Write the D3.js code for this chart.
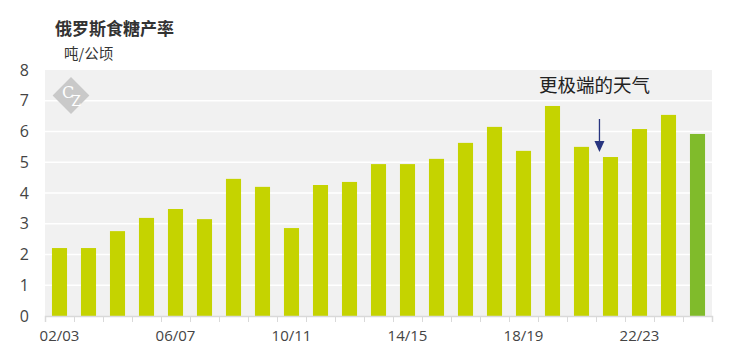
<!DOCTYPE html>
<html>
<head>
<meta charset="utf-8">
<script src="https://cdn.jsdelivr.net/npm/d3@7"></script>
<style>
  body { margin: 0; background: #fff; }
  svg { display: block; font-family: "Open Sans", "Noto Sans CJK SC", sans-serif; }
</style>
</head>
<body>
<svg id="chart" width="731" height="360"></svg>
<script>
// seasons 02/03 .. 24/25
const seasons = ['02/03','03/04','04/05','05/06','06/07','07/08','08/09','09/10','10/11','11/12','12/13',
  '13/14','14/15','15/16','16/17','17/18','18/19','19/20','20/21','21/22','22/23','23/24','24/25']
const yields = [2.21, 2.21, 2.76, 3.19, 3.48, 3.15, 4.46, 4.2, 2.86, 4.26, 4.36,
  4.94, 4.94, 5.11, 5.63, 6.15, 5.37, 6.83, 5.5, 5.17, 6.08, 6.54, 5.92]
const y_ticks = [0, 1, 2, 3, 4, 5, 6, 7, 8]
const x_labels = ['02/03', '06/07', '10/11', '14/15', '18/19', '22/23']
const note_text = '更极端的天气'
const note_season = '21/22'

const svg = d3.select('#chart')
const m_left = 45, m_right = 712, m_top = 70, m_bottom = 316

const x = d3.scaleBand().domain(seasons).range([m_left, m_right]).paddingInner(0.48).paddingOuter(0.24)
const x_edge = d3.scaleLinear().domain([0, seasons.length]).range([m_left, m_right])
const y = d3.scaleLinear().domain([0, 8]).range([m_bottom, m_top])

// title
svg.append('text').attr('x', 55).attr('y', 35)
  .attr('font-size', 17).attr('font-weight', 'bold').attr('fill', '#333')
  .attr('font-family', 'Noto Sans CJK SC, sans-serif')
  .text('俄罗斯食糖产率')
svg.append('text').attr('x', 64).attr('y', 59)
  .attr('font-size', 14.5).attr('fill', '#333')
  .attr('font-family', 'Noto Sans CJK SC, sans-serif')
  .text('吨/公顷')

// plot background
svg.append('rect').attr('x', m_left).attr('y', m_top)
  .attr('width', m_right - m_left).attr('height', m_bottom - m_top).attr('fill', '#f1f1f1')

// grid
svg.append('g').selectAll('line').data(y_ticks.filter(d => d > 0 && d < 8)).join('line')
  .attr('x1', m_left).attr('x2', m_right)
  .attr('y1', d => y(d)).attr('y2', d => y(d))
  .attr('stroke', '#fff').attr('stroke-width', 1.5)

// logo
const logo = svg.append('g').attr('transform', 'translate(71,95.5)')
logo.append('rect').attr('x', -13).attr('y', -13).attr('width', 26).attr('height', 26)
  .attr('transform', 'rotate(45)').attr('fill', '#c9c9c9')
const logo_text = logo.append('text').attr('x', -9).attr('y', 2)
  .attr('font-family', 'DejaVu Serif, serif').attr('fill', '#fff')
logo_text.append('tspan').attr('font-size', 16).text('C')
logo_text.append('tspan').attr('font-size', 14).attr('dx', -3).attr('dy', 8).text('Z')

// bars
svg.append('g').selectAll('rect').data(yields).join('rect')
  .attr('x', (d, i) => x(seasons[i]))
  .attr('y', d => y(d))
  .attr('width', x.bandwidth())
  .attr('height', d => y(0) - y(d))
  .attr('fill', (d, i) => i == yields.length - 1 ? '#80bb2b' : '#c5d300')

// y axis
const y_axis = svg.append('g').attr('transform', `translate(${m_left},0)`)
  .call(d3.axisLeft(y).tickValues(y_ticks).tickSize(0).tickPadding(16))
y_axis.select('.domain').remove()
y_axis.selectAll('text').attr('font-size', 16).attr('fill', '#444')
  .attr('font-family', 'Open Sans, sans-serif')

// x axis ticks on band edges
const x_ticks = svg.append('g').attr('transform', `translate(0,${m_bottom})`)
  .call(d3.axisBottom(x_edge).tickValues(d3.range(seasons.length + 1)).tickSize(6).tickFormat(''))
x_ticks.select('.domain').attr('stroke', '#d9d9d9').attr('stroke-width', 1.5)
x_ticks.selectAll('.tick line').attr('stroke', '#d9d9d9')

const x_axis = svg.append('g').attr('transform', `translate(0,${m_bottom})`)
  .call(d3.axisBottom(x).tickValues(x_labels).tickSize(0).tickPadding(14))
x_axis.select('.domain').remove()
x_axis.selectAll('text').attr('font-size', 15).attr('fill', '#444')
  .attr('font-family', 'Open Sans, sans-serif')

// annotation
const note_x = x(note_season) - 3.5
svg.append('text').attr('x', note_x - 5).attr('y', 92).attr('text-anchor', 'middle')
  .attr('font-size', 18.5).attr('fill', '#222')
  .attr('font-family', 'Noto Sans CJK SC, sans-serif').text(note_text)
svg.append('line').attr('x1', note_x).attr('x2', note_x).attr('y1', 119).attr('y2', 143)
  .attr('stroke', '#283580').attr('stroke-width', 1.3)
svg.append('path')
  .attr('d', `M${note_x - 5},141 L${note_x + 5},141 L${note_x},152 Z`)
  .attr('fill', '#283580')
</script>
</body>
</html>
